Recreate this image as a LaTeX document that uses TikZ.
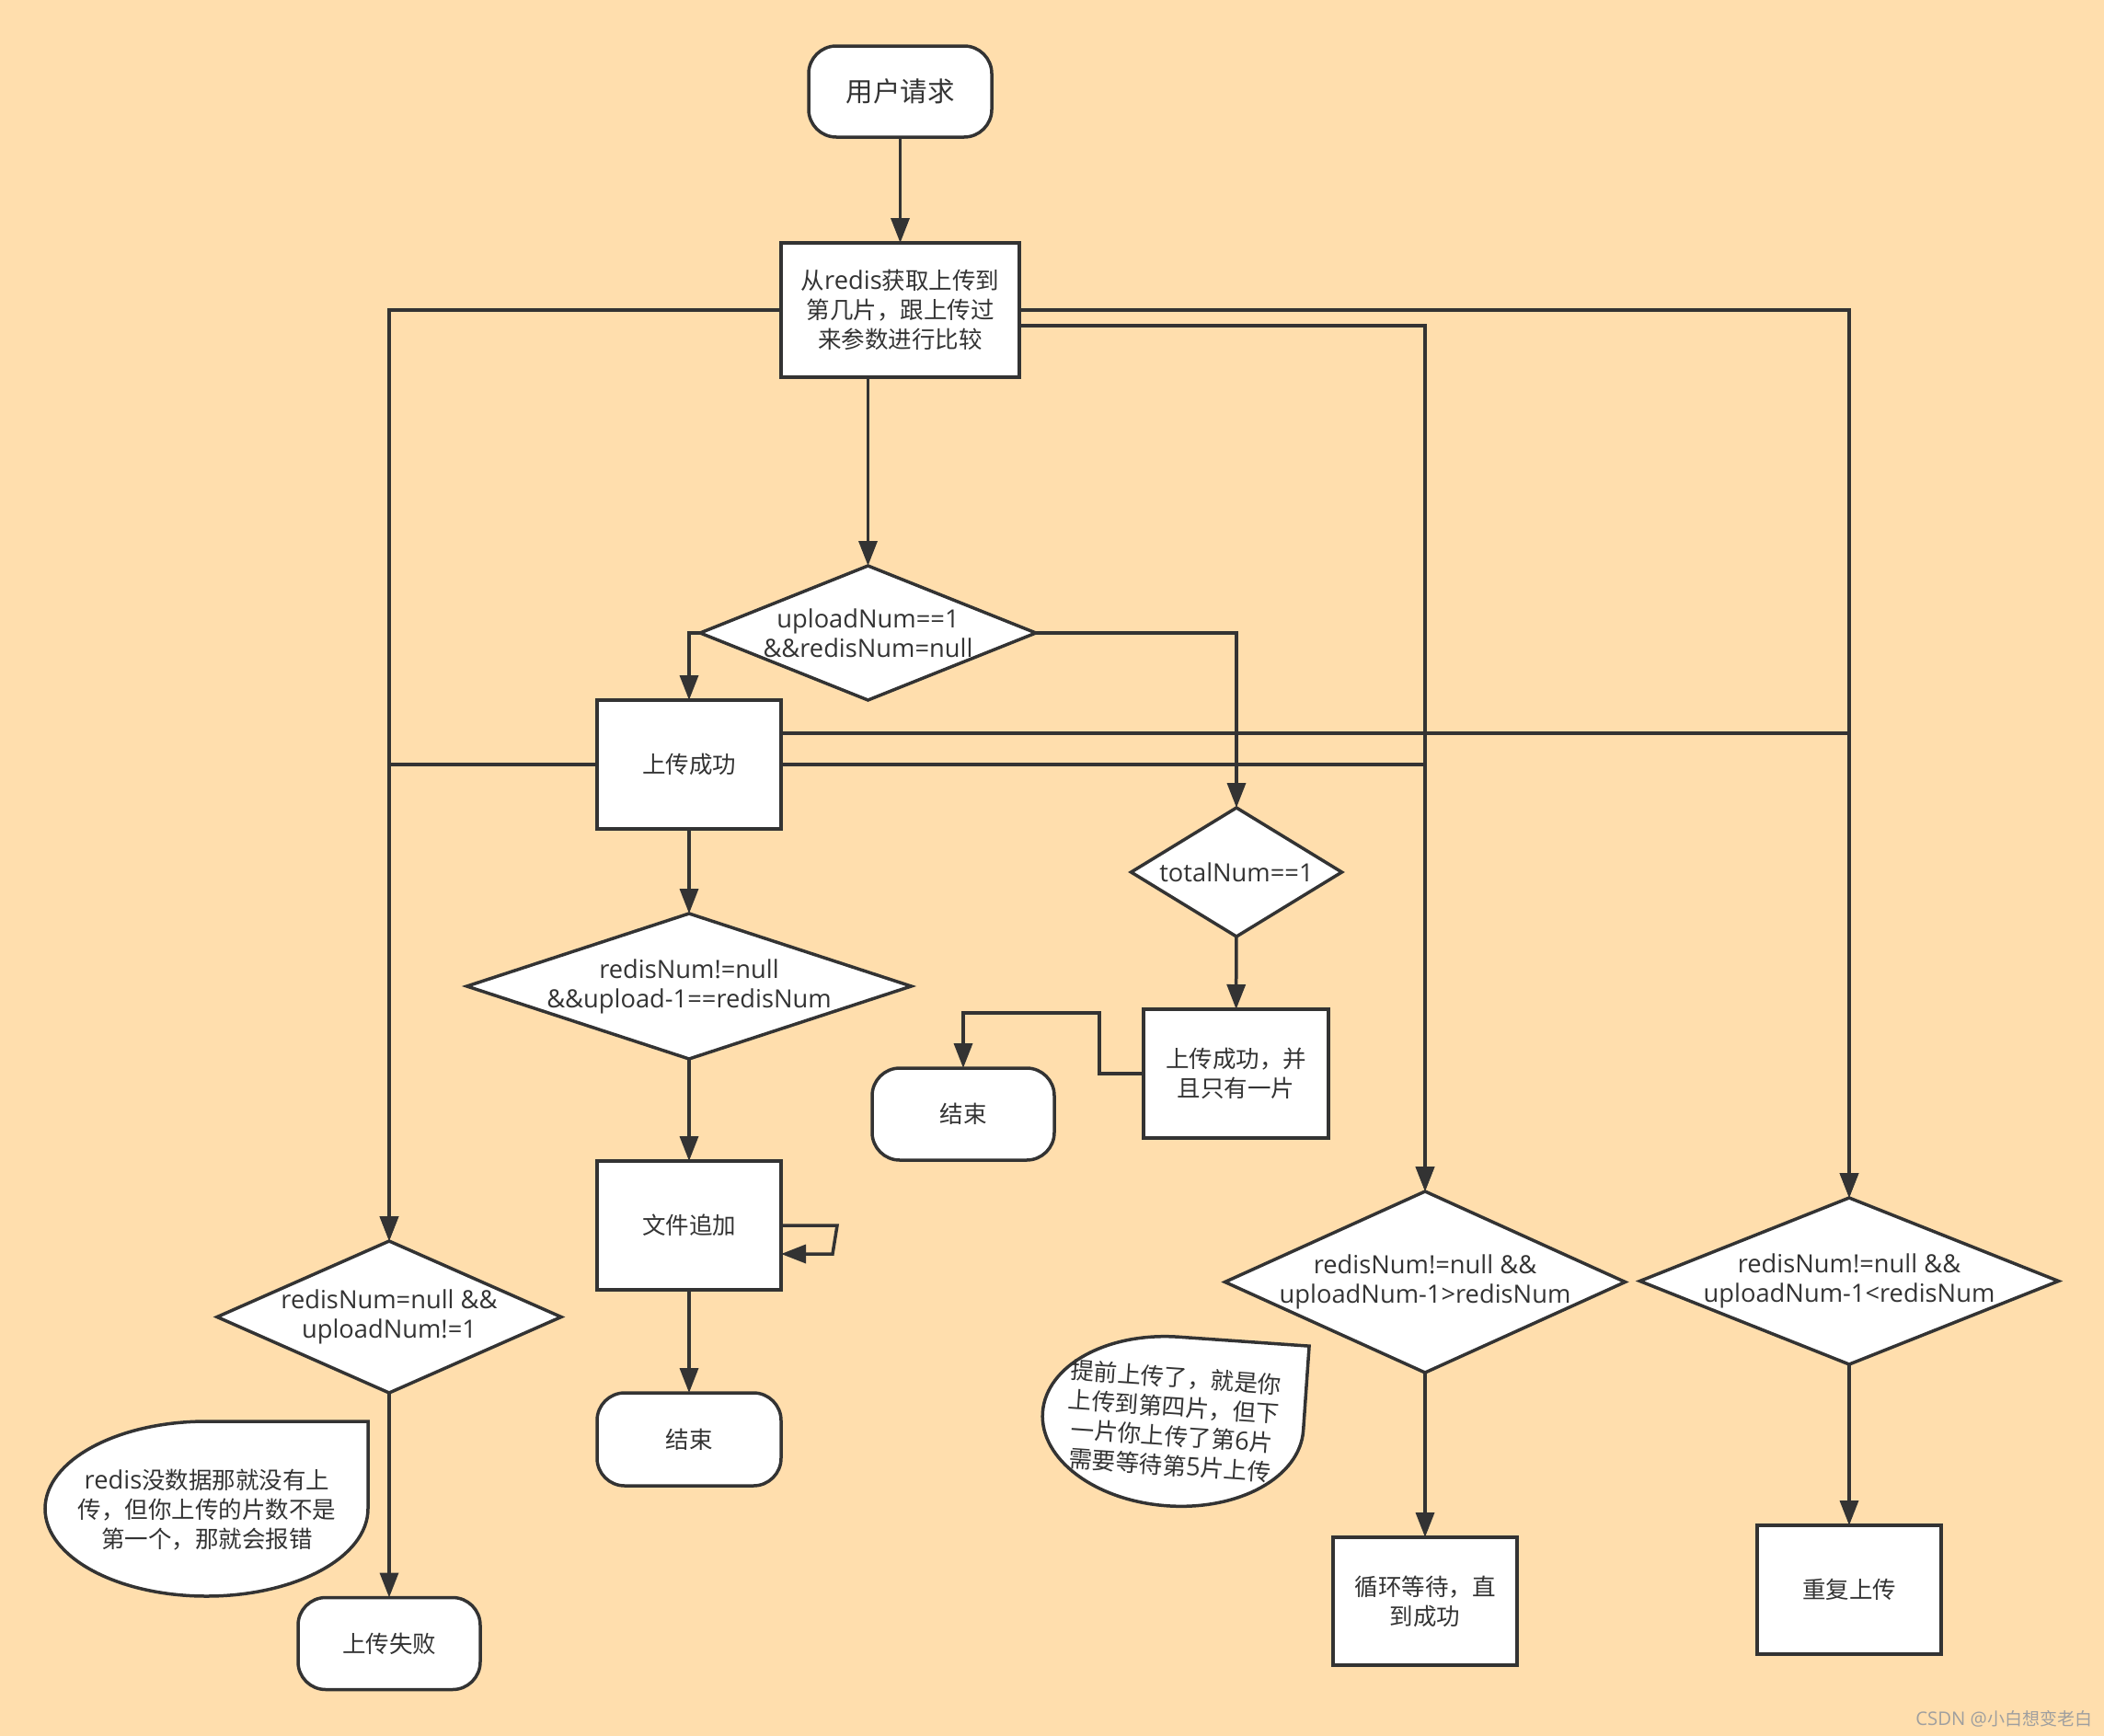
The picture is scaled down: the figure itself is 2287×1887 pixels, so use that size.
\documentclass[tikz,border=0pt]{standalone}
\usepackage{fontspec}
\setmainfont{Noto Sans CJK SC}
\newfontfamily\lat[Scale=1.07]{Open Sans}
\usetikzlibrary{shapes.geometric,arrows.meta}
\definecolor{bg}{RGB}{255,222,173}
\definecolor{ln}{HTML}{333333}
\tikzset{
  every node/.style={text=ln, font=\fontsize{25.5}{32}\selectfont, align=center, inner sep=0pt, outer sep=0pt},
  base/.style={draw=ln, line width=3.5pt, fill=white},
  proc/.style={base, rectangle, minimum width=200pt, minimum height=140pt},
  term/.style={base, rectangle, rounded corners=30pt, minimum width=198pt, minimum height=100pt},
  dec/.style={base, diamond},
  conn/.style={draw=ln, line width=3.5pt, -{Triangle[length=27pt,width=20pt]}},
}
\begin{document}
\begin{tikzpicture}[x=1pt,y=-1pt]
\fill[bg] (0,0) rectangle (2287,1887);
\useasboundingbox (0,0) rectangle (2287,1887);

% nodes
\node[term, minimum width=199pt, minimum height=99pt, font=\fontsize{29.5}{36}\selectfont] (start) at (978.5,99.5) {用户请求};
\node[proc, minimum width=259pt, minimum height=146pt] (fetch) at (978.5,337) {从{\lat redis}获取上传到\\第几片，跟上传过\\来参数进行比较};
\node[dec, minimum width=365pt, minimum height=146pt] (d1) at (943.5,688) {};
\node (d1t) at (d1.center) {\lat uploadNum==1\\\lat \&\&redisNum=null};
\node[proc] (ok) at (749,831) {上传成功};
\node[dec, minimum width=483pt, minimum height=158pt] (d2) at (749,1072) {};
\node (d2t) at (d2.center) {\lat redisNum!=null\\\lat \&\&upload-1==redisNum};
\node[proc] (append) at (749,1332) {文件追加};
\node[term, minimum width=200pt, minimum height=101pt] (end1) at (749,1564.5) {结束};
\node[dec, minimum width=229pt, minimum height=140pt] (d3) at (1344,948) {};
\node (d3t) at (d3.center) {\lat totalNum==1};
\node[proc, minimum width=201pt] (one) at (1343.5,1167) {上传成功，并\\且只有一片};
\node[term] (end2) at (1047,1211) {结束};
\node[dec, minimum width=435pt, minimum height=197pt] (d4) at (1549,1393.5) {};
\node (d4t) at (d4.center) {\lat redisNum!=null \&\&\\\lat uploadNum-1>redisNum};
\node[dec, minimum width=455pt, minimum height=181pt] (d5) at (2010,1392.5) {};
\node (d5t) at (d5.center) {\lat redisNum!=null \&\&\\\lat uploadNum-1<redisNum};
\node[dec, minimum width=374pt, minimum height=165pt] (d6) at (423,1431.5) {};
\node (d6t) at (d6.center) {\lat redisNum=null \&\&\\\lat uploadNum!=1};
\node[term] (fail) at (423,1786.5) {上传失败};
\node[proc, minimum height=139pt] (wait) at (1549,1740.5) {循环等待，直\\到成功};
\node[proc] (retry) at (2010,1728) {重复上传};

% callouts
\draw[base] (400,1545) -- (400,1640) arc[start angle=0, end angle=-270, x radius=175.5pt, y radius=95pt] -- cycle;
\node (n1) at (225,1641) {{\lat redis}没数据那就没有上\\传，但你上传的片数不是\\第一个，那就会报错};
\begin{scope}[shift={(1275,1545)}, rotate=-4]
\draw[base] (142,-92) -- (142,0) arc[start angle=0, end angle=-270, x radius=142pt, y radius=92pt] -- cycle;
\end{scope}
\node[rotate=-4] (n2) at (1275,1545) {提前上传了，就是你\\上传到第四片，但下\\一片你上传了第{\lat 6}片\\需要等待第{\lat 5}片上传};

% connectors
\draw[conn] (start) -- (fetch);
\draw[conn] (fetch.south -| d1.north) -- (d1.north);
\draw[conn] (d1.west) -| (ok.north);
\draw[conn] (d1.east) -| (d3.north);
\draw[conn] (ok) -- (d2);
\draw[conn] (d2) -- (append);
\draw[conn] (append) -- (end1);
\draw[conn] (append.east) -- ++(61,0) -- ++(-5,31) -- ++(-56,0);
\draw[conn] (d3) -- (one);
\coordinate (c1) at (1195,1101);
\draw[conn] (one.west) -| (c1) -| (end2.north);
\draw[conn] (fetch.west) -| (d6.north);
\draw[conn] (fetch.east) -| (d5.north);
\draw[conn] ([yshift=-17pt]fetch.east) -| (d4.north);
\draw[conn] (ok.west) -| (d6.north);
\draw[conn] ([yshift=34pt]ok.east) -| (d5.north);
\draw[conn] (ok.east) -| (d4.north);
\draw[conn] (d6) -- (fail);
\draw[conn] (d4) -- (wait);
\draw[conn] (d5) -- (retry);

\node[text=gray!75, font=\fontsize{19}{21}\selectfont, anchor=east] (wm) at (2274,1868) {{\lat CSDN @}小白想变老白};
\end{tikzpicture}
\end{document}
